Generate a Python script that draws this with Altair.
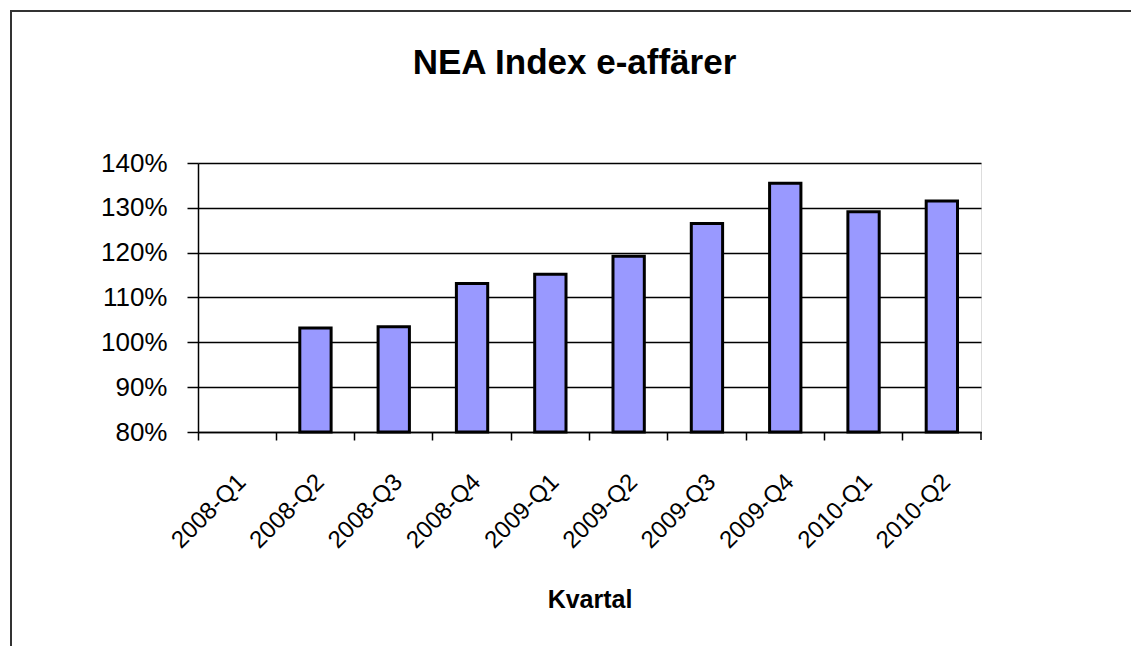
import altair as alt
import pandas as pd

quarters = ["2008-Q1", "2008-Q2", "2008-Q3", "2008-Q4", "2009-Q1",
            "2009-Q2", "2009-Q3", "2009-Q4", "2010-Q1", "2010-Q2"]
index_values = [None, 1.032, 1.035, 1.131, 1.152, 1.192, 1.265, 1.355, 1.291, 1.315]
y_ticks = [0.8, 0.9, 1.0, 1.1, 1.2, 1.3, 1.4]

df = pd.DataFrame({"Kvartal": quarters, "Index": index_values})
frame_df = pd.DataFrame({"k": [0]})

W, H = 783, 269
FONT = "Liberation Sans"

x_enc = alt.X(
    "Kvartal:N",
    sort=quarters,
    scale=alt.Scale(domain=quarters, paddingInner=0, paddingOuter=0),
    axis=alt.Axis(
        title="Kvartal", titleFont=FONT, titleFontSize=25, titleFontWeight="bold",
        titleColor="black", titlePadding=35,
        bandPosition=0, labelAngle=-45, labelAlign="right", labelBaseline="middle",
        labelOffset=5, labelPadding=38, labelFont=FONT, labelFontSize=24,
        labelColor="black", tickSize=8, tickColor="black", domainColor="black",
        domainWidth=1.5, tickWidth=1.5, grid=False,
    ),
)

y_enc = alt.Y(
    "Index:Q",
    scale=alt.Scale(domain=[0.8, 1.4], zero=False, nice=False),
    axis=alt.Axis(
        title=None, values=y_ticks, format=".0%", labelFont=FONT, labelFontSize=26,
        labelColor="black", labelPadding=20, tickSize=11, tickColor="black",
        tickWidth=1.5, domainColor="black", domainWidth=1.5,
        grid=True, gridColor="black", gridWidth=1.5,
    ),
)

bars = alt.Chart(df).mark_bar(
    width=alt.RelativeBandSize(0.4), color="#9999FF", stroke="black", strokeWidth=3
).encode(x=x_enc, y=y_enc, y2=alt.datum(0.8))

last_tick = alt.Chart(frame_df).mark_rule(color="black", strokeWidth=1.5).encode(
    x=alt.value(W), y=alt.value(H), y2=alt.value(H + 8)
)

frame = alt.Chart(frame_df).mark_rect(
    fillOpacity=0, stroke="#333333", strokeWidth=2
).encode(x=alt.value(-187), x2=alt.value(1500), y=alt.value(-152), y2=alt.value(1000))

chart = alt.layer(bars, last_tick, frame).properties(
    width=W, height=H,
    padding={"left": 190, "top": 155, "right": 150, "bottom": 214},
    autosize="none",
    title=alt.Title("NEA Index e-affärer", font=FONT, fontSize=35, fontWeight="bold",
                    color="black", offset=-99, baseline="alphabetic", dx=-15,
                    anchor="middle", frame="group"),
).configure_view(
    fill="#C0C0C0", stroke="#808080", strokeWidth=1.5
).configure(background="white")

chart.save("out.html", embed_options={"renderer": "svg", "actions": False})
